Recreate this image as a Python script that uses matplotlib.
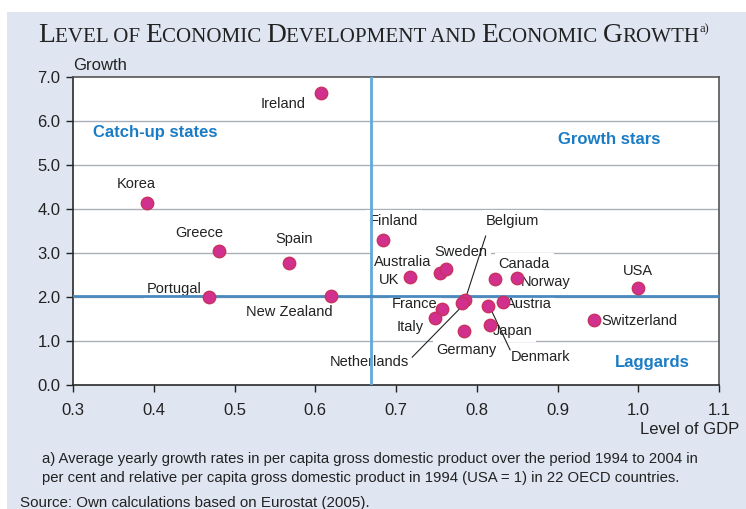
import numpy as np
import matplotlib
matplotlib.use('Agg')
import matplotlib.pyplot as plt
from matplotlib.patches import Rectangle

countries = ['Ireland', 'Korea', 'Greece', 'Spain', 'Portugal', 'New Zealand',
             'Finland', 'Australia', 'UK', 'Sweden', 'Belgium', 'Canada',
             'Norway', 'USA', 'France', 'Italy', 'Germany', 'Netherlands',
             'Japan', 'Denmark', 'Austria', 'Switzerland']
gdp_level = [0.607, 0.392, 0.481, 0.567, 0.468, 0.620,
             0.684, 0.754, 0.717, 0.762, 0.785, 0.823,
             0.850, 1.000, 0.757, 0.748, 0.784, 0.782,
             0.816, 0.814, 0.832, 0.945]
growth = [6.64, 4.14, 3.05, 2.77, 2.00, 2.02,
          3.30, 2.55, 2.45, 2.64, 1.93, 2.41,
          2.43, 2.20, 1.73, 1.52, 1.23, 1.86,
          1.36, 1.80, 1.89, 1.48]
mean_level = 0.669
mean_growth = 2.02

xticks = [0.3, 0.4, 0.5, 0.6, 0.7, 0.8, 0.9, 1.0, 1.1]
yticks = [0.0, 1.0, 2.0, 3.0, 4.0, 5.0, 6.0, 7.0]

# label offsets from the point, in pixels (dx, dy)
label_pos = {
    'Ireland': (-38, -11), 'Korea': (-11, 19), 'Greece': (-20, 18),
    'Spain': (5, 24), 'Portugal': (-34, 8), 'New Zealand': (-42, -16),
    'Finland': (11, 19), 'Australia': (-37, 11), 'UK': (-21, -3),
    'Sweden': (15, 17), 'Belgium': (48, 79), 'Canada': (29, 15),
    'Norway': (29, -4), 'USA': (0, 17), 'France': (-27, 5),
    'Italy': (-25, -9), 'Germany': (3, -19), 'Netherlands': (-93, -59),
    'Japan': (23, -6), 'Denmark': (52, -51), 'Austria': (26, -2),
    'Switzerland': (46, -1),
}
leaders = {'Belgium': ((21, 64), (2, 5)),
           'Netherlands': ((-50, -54), (-2, -5)),
           'Denmark': ((22, -44), (4, -6))}

bg = '#dfe6f2'
plt.rcParams['font.family'] = ['Liberation Sans', 'DejaVu Sans']

fig = plt.figure(figsize=(7.46, 5.09), dpi=100)
fig.patches.append(Rectangle((7 / 746, 0), 1, 1 - 12 / 509, transform=fig.transFigure,
                             facecolor=bg, edgecolor='none', zorder=-10))

ax = fig.add_axes([73 / 746, 1 - 385 / 509, 646 / 746, 308 / 509])
ax.set_facecolor('white')
ax.set_xlim(0.3, 1.1)
ax.set_ylim(0, 7)
ax.set_xticks(xticks)
ax.set_xticklabels(['%.1f' % v for v in xticks])
ax.set_yticks(yticks)
ax.set_yticklabels(['%.1f' % v for v in yticks])
ax.tick_params(axis='x', direction='out', length=5, width=1, pad=8, labelsize=12, colors='#222222')
ax.tick_params(axis='y', direction='out', length=5, width=1, pad=4, labelsize=12, colors='#222222')
for s in ax.spines.values():
    s.set_color('#2a2a2a')
    s.set_linewidth(1.2)
ax.spines['top'].set_color('#555555')
ax.spines['right'].set_color('#555555')

for v in yticks[1:-1]:
    ax.axhline(v, color='#a9aeb8', lw=1, zorder=1)

ax.axvline(mean_level, color='#62a9d8', lw=2, zorder=4)
ax.axhline(mean_growth, color='#4a89bd', lw=2, zorder=4)

ax.scatter(gdp_level, growth, s=80, facecolor='#d1308e', edgecolor='#c8325c',
           linewidth=1, zorder=6)

for name, x, y in zip(countries, gdp_level, growth):
    dx, dy = label_pos[name]
    ax.annotate(name, (x, y), xytext=(dx, dy), textcoords='offset pixels',
                ha='center', va='center', fontsize=10.5, color='#222222', zorder=3,
                bbox=dict(boxstyle='square,pad=0.25', facecolor='white', edgecolor='none'))
    if name in leaders:
        (x0, y0), (x1, y1) = leaders[name]
        p0 = ax.transData.transform((x, y))
        pts = np.array([[p0[0] + x0, p0[1] + y0], [p0[0] + x1, p0[1] + y1]])
        d = ax.transData.inverted().transform(pts)
        ax.plot(d[:, 0], d[:, 1], color='#222222', lw=0.8, zorder=5)

ax.text(0.325, 5.73, 'Catch-up states', fontsize=12, fontweight='bold', color='#1b7cc4', va='center')
ax.text(0.964, 5.59, 'Growth stars', fontsize=12, fontweight='bold', color='#1b7cc4',
        ha='center', va='center')
ax.text(1.017, 0.5, 'Laggards', fontsize=12, fontweight='bold', color='#1b7cc4',
        ha='center', va='center')

fig.text(73 / 746, 1 - 66 / 509, 'Growth', fontsize=12, va='center', color='#222222')
fig.text(739 / 746, 1 - 430 / 509, 'Level of GDP', fontsize=12, va='center', ha='right', color='#222222')

fig.text(42 / 746, 1 - 459 / 509,
         'a) Average yearly growth rates in per capita gross domestic product over the period 1994 to 2004 in',
         fontsize=10.7, va='center', color='#222222')
fig.text(42 / 746, 1 - 478 / 509,
         'per cent and relative per capita gross domestic product in 1994 (USA = 1) in 22 OECD countries.',
         fontsize=10.7, va='center', color='#222222')
fig.text(20 / 746, 1 - 503 / 509, 'Source: Own calculations based on Eurostat (2005).',
         fontsize=10.9, va='center', color='#222222')

# small-caps title built from pieces
big, small = 19.8, 15.1
pieces = [('L', big), ('EVEL OF ', small), ('E', big), ('CONOMIC ', small), ('D', big),
          ('EVELOPMENT AND ', small), ('E', big), ('CONOMIC ', small), ('G', big), ('ROWTH', small)]
renderer = fig.canvas.get_renderer()
xpix = 38
base = 509 - 42
for txt, size in pieces:
    t = fig.text(xpix / 746, base / 509, txt, fontsize=size, family='Liberation Serif',
                 va='baseline', color='#222222')
    bb = t.get_window_extent(renderer)
    xpix = bb.x1
fig.text(xpix / 746, (base + 10) / 509, 'a)', fontsize=9, family='Liberation Serif',
         va='baseline', color='#222222')

fig.savefig('out.png', dpi=100)
